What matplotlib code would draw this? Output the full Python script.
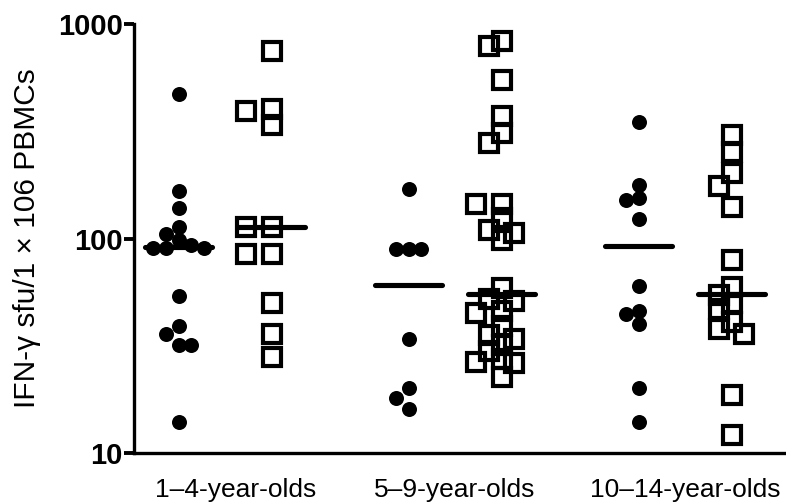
import numpy as np
import matplotlib
matplotlib.use("Agg")
import matplotlib.pyplot as plt

categories = ['1–4-year-olds', '5–9-year-olds', '10–14-year-olds']
circles_1_4 = [472, 167, 138, 113, 105, 98, 93, 90, 90, 90, 54, 39, 36, 32, 32, 14]
squares_1_4 = [752, 400, 393, 338, 113, 113, 85, 85, 50, 36, 28]
circles_5_9 = [171, 89, 89, 89, 34, 20, 18, 16]
squares_5_9 = [836, 793, 548, 372, 309, 278, 145, 145, 124, 110, 106, 98,
               59, 52, 51, 46, 45, 39, 35.5, 34, 32, 30, 27.5, 26.7, 26.2, 22.7]
circles_10_14 = [351, 177, 154, 151, 123, 60, 46, 44.5, 40, 20, 14]
squares_10_14 = [304, 254, 203, 176, 140, 79, 59.6, 54.6, 50, 47, 41, 38, 36, 18.6, 12.1]
median_circles = [91, 61, 92]
median_squares = [113, 55, 55]
y_ticks = [10, 100, 1000]
y_label = 'IFN-γ sfu/1 × 106 PBMCs'

plt.rcParams['font.family'] = ['Liberation Sans', 'DejaVu Sans']

W, H = 786, 504
fig = plt.figure(figsize=(W / 100, H / 100), dpi=100)
ax_l, ax_r, ax_t, ax_b = 134, 785, 24, 453
ax = fig.add_axes([ax_l / W, (H - ax_b) / H, (ax_r - ax_l) / W, (ax_b - ax_t) / H])
ax.set_yscale('log')
ax.set_ylim(10, 1000)
ax.set_xlim(0, 7.0)

px_per_unit = (ax_r - ax_l) / 7.0


def swarm(values, step_px=12.8, thresh_px=12.5):
    vals = np.asarray(values, dtype=float)
    ypx = np.array([ax.transData.transform((0, v))[1] for v in vals])
    order = np.argsort(-vals, kind='stable')
    placed = []
    offs = np.zeros(len(vals))
    for i in order:
        for k in [0, -1, 1, -2, 2, -3, 3, -4, 4]:
            x = k * step_px
            if all((x - px) ** 2 + (ypx[i] - py) ** 2 >= thresh_px ** 2 for px, py in placed):
                break
        placed.append((x, ypx[i]))
        offs[i] = x / px_per_unit
    return offs


groups = [(circles_1_4, squares_1_4), (circles_5_9, squares_5_9), (circles_10_14, squares_10_14)]
centers = [0.98 + 2.473 * i for i in range(3)]
half = 0.36

for i, (circ, sq) in enumerate(groups):
    xc = centers[i] - 0.5
    xs = centers[i] + 0.5
    oc = swarm(circ, thresh_px=12.5)
    os_ = swarm(sq, thresh_px=13.5)
    ax.plot(xc + oc, circ, 'o', color='black', markersize=10.8, markeredgewidth=0,
            linestyle='none', zorder=3, clip_on=False)
    ax.plot(xs + os_, sq, 's', markerfacecolor='none', markeredgecolor='black',
            markersize=12.3, markeredgewidth=3.0, linestyle='none', zorder=3, clip_on=False)
    ax.plot([xc - half, xc + half], [median_circles[i]] * 2, color='black', lw=3.7,
            solid_capstyle='round', zorder=4)
    ax.plot([xs - half, xs + half], [median_squares[i]] * 2, color='black', lw=3.7,
            solid_capstyle='round', zorder=4)

for s in ['top', 'right']:
    ax.spines[s].set_visible(False)
for s in ['left', 'bottom']:
    ax.spines[s].set_linewidth(2.4)
    ax.spines[s].set_capstyle('projecting')

ax.set_yticks(y_ticks)
ax.set_yticklabels([str(t) for t in y_ticks], fontsize=21, fontweight='bold')
ax.yaxis.set_minor_locator(matplotlib.ticker.NullLocator())
ax.tick_params(axis='y', which='major', length=7, width=2.8, pad=1)

label_pos = [centers[0] + 0.11, centers[1], centers[2]]
ax.set_xticks(label_pos)
ax.set_xticklabels(categories, fontsize=19)
ax.tick_params(axis='x', length=0, pad=18)

ax.set_ylabel(y_label, fontsize=21.5)
ax.yaxis.set_label_coords(-0.143, 0.5)

fig.savefig('out.png', dpi=100)
